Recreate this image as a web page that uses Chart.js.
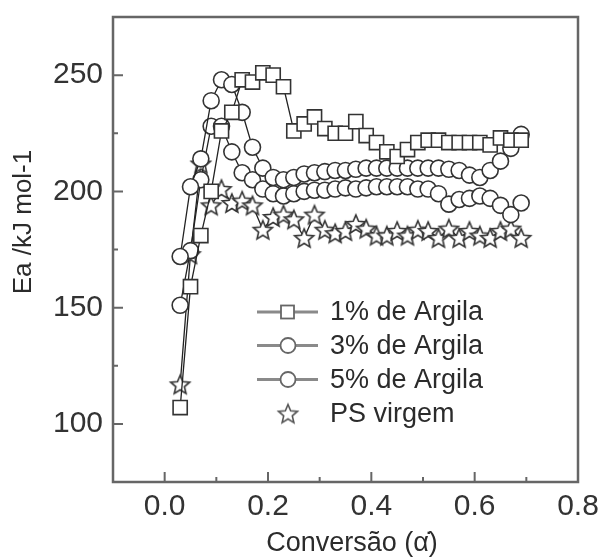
<!DOCTYPE html>
<html>
<head>
<meta charset="utf-8">
<script src="https://cdn.jsdelivr.net/npm/chart.js@4.4.0/dist/chart.umd.min.js"></script>
<style>
  html, body { margin: 0; padding: 0; background: #fff; }
  #wrap { width: 603px; height: 557px; }
</style>
</head>
<body>
<div id="wrap"><canvas id="eaChart" width="603" height="557"></canvas></div>
<script>
// Ea vs conversao - PS and PS/argila

const alpha = [0.03, 0.05, 0.07, 0.09, 0.11, 0.13, 0.15, 0.17, 0.19, 0.21, 0.23,
  0.25, 0.27, 0.29, 0.31, 0.33, 0.35, 0.37, 0.39, 0.41, 0.43, 0.45, 0.47, 0.49,
  0.51, 0.53, 0.55, 0.57, 0.59, 0.61, 0.63, 0.65, 0.67, 0.69];

const argila1 = [107, 159, 181, 200, 226, 234, 248, 247, 251, 250, 245,
  226, 229, 232, 227, 225, 225, 230, 224, 221, 217, 215, 218, 221,
  222, 222, 221, 221, 221, 221, 220, 223, 222, 222];

const argila3 = [172, 202, 214, 239, 248, 246, 234, 219, 210, 206, 205,
  206, 207.5, 208, 208.5, 209, 209, 209.5, 210, 210, 210, 210, 210, 210,
  210, 210, 209.5, 209, 207, 206, 209, 213, 218.5, 224.5];

const argila5 = [151, 174.5, 205, 228, 228, 217, 208, 205, 201, 199, 198,
  199, 200, 200.5, 200.5, 201, 201.5, 201, 201.5, 202, 202, 202, 202, 201,
  201, 199, 194.5, 196.5, 197, 198, 197, 194, 190, 195];

const psVirgem = [117, 173, 212, 194, 201, 195, 196, 194, 183.5, 189, 190,
  188, 180, 190, 183.5, 182, 183, 186, 184, 181, 181, 183, 181, 183.5,
  183, 180, 184, 180, 183, 181, 180, 183, 184, 180];

const seriesNames = ['1% de Argila', '3% de Argila', '5% de Argila', 'PS virgem'];

const xTicks = [0.0, 0.2, 0.4, 0.6, 0.8];
const xMinorTicks = [0.1, 0.3, 0.5, 0.7];
const yTicks = [100, 150, 200, 250];
const yMinorTicks = [125, 175, 225];

const xTitle = 'Conversão (α̇)';
const yTitle = 'Ea /kJ mol-1';

const FONT = "'Liberation Sans', Arial, sans-serif";
const ink = '#2b2b2b';

// open five point star used as point style
function makeStar(r, stroke, lw) {
  const size = Math.ceil(r * 2 + lw * 2 + 4);
  const c = document.createElement('canvas');
  c.width = size;
  c.height = size;
  const g = c.getContext('2d');
  const cx = size / 2, cy = size / 2 + r * 0.1;
  g.beginPath();
  for (let i = 0; i < 10; i++) {
    const rr = i % 2 ? r * 0.45 : r;
    const a = -Math.PI / 2 + i * Math.PI / 5;
    g.lineTo(cx + rr * Math.cos(a), cy + rr * Math.sin(a));
  }
  g.closePath();
  g.fillStyle = '#fff';
  g.fill();
  g.strokeStyle = stroke;
  g.lineWidth = lw;
  g.lineJoin = 'miter';
  g.stroke();
  return c;
}

const starDark = makeStar(10, '#333', 1.6);
const starGray = makeStar(10, '#555', 1.6);

function toPoints(ys) {
  return ys.map((y, i) => ({ x: alpha[i], y: y }));
}

function series(label, ys, style, radius) {
  return {
    label: label,
    data: toPoints(ys),
    showLine: true,
    borderColor: '#222',
    borderWidth: 1.3,
    pointStyle: style,
    pointRadius: radius,
    pointBorderColor: '#333',
    pointBackgroundColor: '#fff',
    pointBorderWidth: 1.6,
    tension: 0
  };
}

// frame, inward ticks, axis titles and the legend box
const framePlugin = {
  id: 'frame',
  afterDraw(chart) {
    const { ctx, chartArea: a, scales: { x, y } } = chart;
    ctx.save();

    ctx.strokeStyle = '#666';
    ctx.lineWidth = 2.5;
    ctx.strokeRect(a.left, a.top, a.right - a.left, a.bottom - a.top);

    ctx.lineWidth = 2;
    ctx.beginPath();
    xTicks.forEach(v => {
      const px = x.getPixelForValue(v);
      ctx.moveTo(px, a.bottom); ctx.lineTo(px, a.bottom - 10);
    });
    xMinorTicks.forEach(v => {
      const px = x.getPixelForValue(v);
      ctx.moveTo(px, a.bottom); ctx.lineTo(px, a.bottom - 5);
    });
    yTicks.forEach(v => {
      const py = y.getPixelForValue(v);
      ctx.moveTo(a.left, py); ctx.lineTo(a.left + 10, py);
    });
    yMinorTicks.forEach(v => {
      const py = y.getPixelForValue(v);
      ctx.moveTo(a.left, py); ctx.lineTo(a.left + 5, py);
    });
    ctx.stroke();

    // axis titles
    ctx.fillStyle = ink;
    ctx.textAlign = 'center';
    ctx.textBaseline = 'middle';
    ctx.font = '27px ' + FONT;
    ctx.fillText(xTitle, 352, 544);
    ctx.save();
    ctx.translate(24, 222);
    ctx.rotate(-Math.PI / 2);
    ctx.font = '26px ' + FONT;
    ctx.fillText(yTitle, 0, 0);
    ctx.restore();

    // legend
    const rows = [312, 345.5, 379.5, 413.5];
    const styles = ['rect', 'circle', 'circle', 'star'];
    ctx.font = '27px ' + FONT;
    ctx.textAlign = 'left';
    rows.forEach((ry, i) => {
      if (styles[i] !== 'star') {
        ctx.strokeStyle = '#8a8a8a';
        ctx.lineWidth = 3;
        ctx.beginPath();
        ctx.moveTo(257, ry); ctx.lineTo(318, ry);
        ctx.stroke();
      }
      ctx.strokeStyle = '#666';
      ctx.fillStyle = '#fff';
      ctx.lineWidth = 1.8;
      if (styles[i] === 'rect') {
        ctx.fillRect(281, ry - 6.5, 13, 13);
        ctx.strokeRect(281, ry - 6.5, 13, 13);
      } else if (styles[i] === 'circle') {
        ctx.beginPath();
        ctx.arc(288, ry, 7.5, 0, Math.PI * 2);
        ctx.fill();
        ctx.stroke();
      } else {
        ctx.drawImage(starGray, 288 - starGray.width / 2, ry - starGray.height / 2);
      }
      ctx.fillStyle = ink;
      ctx.fillText(seriesNames[i], 330, ry + 1);
    });

    ctx.restore();
  }
};

const ctx = document.getElementById('eaChart');

new Chart(ctx.getContext('2d'), {
  type: 'scatter',
  data: {
    datasets: [
      series(seriesNames[0], argila1, 'rect', 10),
      series(seriesNames[1], argila3, 'circle', 8),
      series(seriesNames[2], argila5, 'circle', 8),
      series(seriesNames[3], psVirgem, starDark, 10)
    ]
  },
  options: {
    responsive: false,
    animation: false,
    layout: { padding: { top: 17, right: 25, left: 0, bottom: 0 } },
    plugins: {
      legend: { display: false },
      tooltip: { enabled: false }
    },
    scales: {
      x: {
        type: 'linear',
        min: -0.1,
        max: 0.8,
        grid: { display: false, drawTicks: false },
        border: { display: false },
        afterBuildTicks: s => { s.ticks = xTicks.map(v => ({ value: v })); },
        afterFit: s => { s.height = 75; s.paddingLeft = 0; s.paddingRight = 0; },
        ticks: {
          padding: 7,
          color: '#333',
          font: { family: FONT, size: 30 },
          callback: v => Number(v).toFixed(1)
        }
      },
      y: {
        min: 75,
        max: 275,
        grid: { display: false, drawTicks: false },
        border: { display: false },
        afterBuildTicks: s => { s.ticks = yTicks.map(v => ({ value: v })); },
        afterFit: s => { s.width = 113; s.paddingTop = 0; s.paddingBottom = 0; },
        ticks: {
          padding: 10,
          color: '#333',
          font: { family: FONT, size: 30 },
          callback: v => String(v)
        }
      }
    }
  },
  plugins: [framePlugin]
});
</script>
</body>
</html>
